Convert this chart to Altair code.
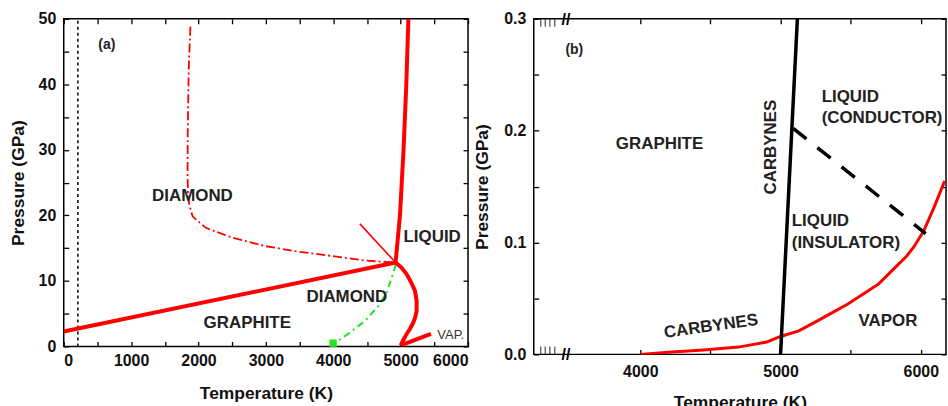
import altair as alt
import pandas as pd

FONT = "Liberation Sans"
RED = "#ff0000"
GREEN = "#22e622"
BLACK = "#000000"

# ---------------- Panel (a): 0-50 GPa ----------------
a_room_T = [210, 210]
a_room_P = [0, 50]

# graphite / diamond boundary
a_gd_T = [0, 4925]
a_gd_P = [2.28, 12.8]

# diamond melting line
a_dm_T = [4925, 4990, 5043, 5084, 5115]
a_dm_P = [12.8, 20.0, 30.0, 40.0, 50.0]

# graphite melting line
a_gm_T = [4925, 5015, 5090, 5150, 5212, 5237, 5237, 5215, 5188, 5140, 5089, 5040, 5000]
a_gm_P = [12.8, 12.0, 11.0, 9.9, 8.5, 7.0, 5.4, 4.4, 3.65, 2.7, 1.9, 1.0, 0.15]

# vaporization branch
a_vap_T = [5000, 5450]
a_vap_P = [0.15, 1.9]

# metastable extension above the triple point
a_meta_T = [4395, 4925]
a_meta_P = [18.7, 12.8]

# dash-dot kinetic boundary
a_kin_T = [1880, 1855, 1840, 1838, 1845, 1862, 1911, 1961, 2109, 2502, 2995, 3488, 3980, 4473, 4925]
a_kin_P = [48.8, 42.4, 32.3, 26.0, 23.0, 21.7, 19.9, 19.4, 18.1, 16.6, 15.3, 14.45, 13.8, 13.1, 12.8]

# green dash-dot curve and its end point
a_grn_T = [4930, 4867, 4793, 4670, 4473, 4226, 4030, 4000]
a_grn_P = [12.5, 10.5, 8.2, 6.2, 3.9, 1.95, 0.55, 0.5]
a_pt_T = [3998]
a_pt_P = [0.49]

a_lbl_text = ["DIAMOND", "LIQUID", "DIAMOND", "GRAPHITE"]
a_lbl_T = [1910, 5468, 4202, 2724]
a_lbl_P = [23.0, 16.7, 7.56, 3.5]
a_vaplbl_T = [5744]
a_vaplbl_P = [1.78]
a_tag_T = [640]
a_tag_P = [46.0]

a_xticks = list(range(0, 6001, 500))
a_yticks = list(range(0, 51, 5))

# ---------------- Panel (b): 0-0.3 GPa ----------------
b_carb_T = [5000, 5120]
b_carb_P = [0.0, 0.3]

b_ic_T = [5090, 6035]
b_ic_P = [0.202, 0.108]

b_vap_T = [4000, 4200, 4450, 4700, 4900, 5000, 5130, 5250, 5350, 5480, 5590, 5700, 5820, 5900, 5950, 6020, 6100, 6170]
b_vap_P = [0.0, 0.002, 0.004, 0.0065, 0.011, 0.016, 0.021, 0.029, 0.036, 0.045, 0.054, 0.063, 0.078, 0.088, 0.096, 0.110, 0.133, 0.155]

b_xticks = [4000, 4500, 5000, 5500, 6000]
b_yticks = [0, 0.05, 0.1, 0.15, 0.2, 0.25, 0.3]
b_minor_T = [3290, 3322, 3355, 3390]
b_break_T = [3470]

b_c_text = ["GRAPHITE", "VAPOR"]
b_c_T = [4137, 5766]
b_c_P = [0.1877, 0.0297]
b_l_text = ["LIQUID", "(CONDUCTOR)", "LIQUID", "(INSULATOR)"]
b_l_T = [5293, 5293, 5080, 5080]
b_l_P = [0.2301, 0.2109, 0.1194, 0.0992]
b_carb_lbl_T = [4930]
b_carb_lbl_P = [0.1853]
b_carb2_lbl_T = [4504]
b_carb2_lbl_P = [0.025]
b_tag_T = [3529]
b_tag_P = [0.2724]


def df(T, P, **extra):
    d = {"T": T, "P": P, "i": list(range(len(T)))}
    d.update(extra)
    return pd.DataFrame(d)


def enc(xs, ys):
    return dict(x=alt.X("T:Q", scale=xs, axis=None), y=alt.Y("P:Q", scale=ys, axis=None))


def line(T, P, xs, ys, **kw):
    return alt.Chart(df(T, P)).mark_line(clip=True, **kw).encode(order="i:Q", **enc(xs, ys))


def text(T, P, labels, xs, ys, **kw):
    return alt.Chart(df(T, P, t=labels)).mark_text(font=FONT, **kw).encode(text="t:N", **enc(xs, ys))


def frame(xs, ys, xvals, yvals, xexpr, yexpr, xtitle, ytitle, xpad, ypad, xtp, ytp):
    common = dict(tickSize=5, offset=-5, domain=False, grid=False, tickColor=BLACK, tickWidth=1.3)
    seed = df([xs.domain[0]], [ys.domain[0]])
    main = alt.Chart(seed).mark_point(opacity=0).encode(
        x=alt.X("T:Q", scale=xs, axis=alt.Axis(orient="bottom", values=xvals, labelExpr=xexpr,
                                               title=xtitle, labelPadding=xpad, titlePadding=xtp, **common)),
        y=alt.Y("P:Q", scale=ys, axis=alt.Axis(orient="left", values=yvals, labelExpr=yexpr,
                                               title=ytitle, labelPadding=ypad, titlePadding=ytp, **common)),
    )
    mirror = alt.Chart(seed).mark_point(opacity=0).encode(
        x=alt.X("T:Q", scale=xs, axis=alt.Axis(orient="top", values=xvals, labels=False, title=None, **common)),
        y=alt.Y("P:Q", scale=ys, axis=alt.Axis(orient="right", values=yvals, labels=False, title=None, **common)),
    )
    return [main, mirror]


BOLD = dict(fontSize=17, fontWeight="bold", color="#222")

# ----- build panel (a) -----
xa = alt.Scale(domain=[0, 6000], nice=False, zero=False)
ya = alt.Scale(domain=[0, 50], nice=False, zero=False)

panel_a = alt.layer(
    *frame(xa, ya, a_xticks, a_yticks,
           "datum.value % 1000 === 0 ? format(datum.value, 'd') : ''",
           "datum.value % 10 === 0 ? format(datum.value, 'd') : ''",
           "Temperature (K)", "Pressure (GPa)", 6, 8, 16, 11),
    line(a_room_T, a_room_P, xa, ya, color=BLACK, strokeWidth=1.5, strokeDash=[3, 3]),
    line(a_kin_T, a_kin_P, xa, ya, color=RED, strokeWidth=1.8, strokeDash=[9, 3, 2, 3]),
    line(a_grn_T, a_grn_P, xa, ya, color=GREEN, strokeWidth=2, strokeDash=[7, 4, 2, 4]),
    line(a_meta_T, a_meta_P, xa, ya, color=RED, strokeWidth=1.6),
    line(a_gd_T, a_gd_P, xa, ya, color=RED, strokeWidth=4),
    line(a_dm_T, a_dm_P, xa, ya, color=RED, strokeWidth=4),
    line(a_gm_T, a_gm_P, xa, ya, color=RED, strokeWidth=4),
    line(a_vap_T, a_vap_P, xa, ya, color=RED, strokeWidth=4),
    alt.Chart(df(a_pt_T, a_pt_P)).mark_square(color=GREEN, size=55, opacity=1).encode(**enc(xa, ya)),
    text(a_lbl_T, a_lbl_P, a_lbl_text, xa, ya, **BOLD),
    text(a_vaplbl_T, a_vaplbl_P, ["VAP."], xa, ya, fontSize=13, color="#333"),
    text(a_tag_T, a_tag_P, ["(a)"], xa, ya, fontSize=14, fontWeight="bold", color="#222"),
).properties(width=406, height=329)

# ----- build panel (b) -----
xb = alt.Scale(domain=[3240, 6180], nice=False, zero=False)
yb = alt.Scale(domain=[0, 0.3], nice=False, zero=False)

minor_top = alt.Chart(df(b_minor_T, [0.3] * len(b_minor_T))).mark_tick(
    color=BLACK, size=8, thickness=1.2, orient="vertical", yOffset=4).encode(**enc(xb, yb))
minor_bot = alt.Chart(df(b_minor_T, [0.0] * len(b_minor_T))).mark_tick(
    color=BLACK, size=8, thickness=1.2, orient="vertical", yOffset=-4).encode(**enc(xb, yb))
breaks = text(b_break_T * 2, [0.3, 0.0], ["//", "//"], xb, yb, fontSize=16, fontWeight="bold",
              color=BLACK, dy=1)

panel_b = alt.layer(
    *frame(xb, yb, b_xticks, b_yticks,
           "datum.value % 1000 === 0 ? format(datum.value, 'd') : ''",
           "abs(datum.value * 10 - round(datum.value * 10)) < 1e-6 ? format(datum.value, '.1f') : ''",
           "Temperature (K)", "Pressure (GPa)", 9, 8, 14, 12),
    line(b_vap_T, b_vap_P, xb, yb, color=RED, strokeWidth=3),
    line(b_carb_T, b_carb_P, xb, yb, color=BLACK, strokeWidth=3.5),
    line(b_ic_T, b_ic_P, xb, yb, color=BLACK, strokeWidth=3.5, strokeDash=[17, 14]),
    minor_top, minor_bot, breaks,
    text(b_c_T, b_c_P, b_c_text, xb, yb, align="center", **BOLD),
    text(b_l_T, b_l_P, b_l_text, xb, yb, align="left", **BOLD),
    text(b_carb_lbl_T, b_carb_lbl_P, ["CARBYNES"], xb, yb, angle=270, **BOLD),
    text(b_carb2_lbl_T, b_carb2_lbl_P, ["CARBYNES"], xb, yb, angle=352, **BOLD),
    text(b_tag_T, b_tag_P, ["(b)"], xb, yb, fontSize=14, fontWeight="bold", color="#222"),
).properties(width=414, height=337)

chart = alt.hconcat(panel_a, panel_b, spacing=66, bounds="flush").properties(
    padding={"left": 8, "top": 9, "right": 0, "bottom": 0},
    background="white",
).configure_view(stroke=BLACK, strokeWidth=1.5).configure_axis(
    labelFont=FONT, titleFont=FONT, labelFontSize=16, titleFontSize=17.5,
    labelFontWeight="bold", titleFontWeight="bold", labelColor="#111", titleColor="#111",
)

chart.save("out.html", embed_options={"renderer": "svg", "actions": False})
